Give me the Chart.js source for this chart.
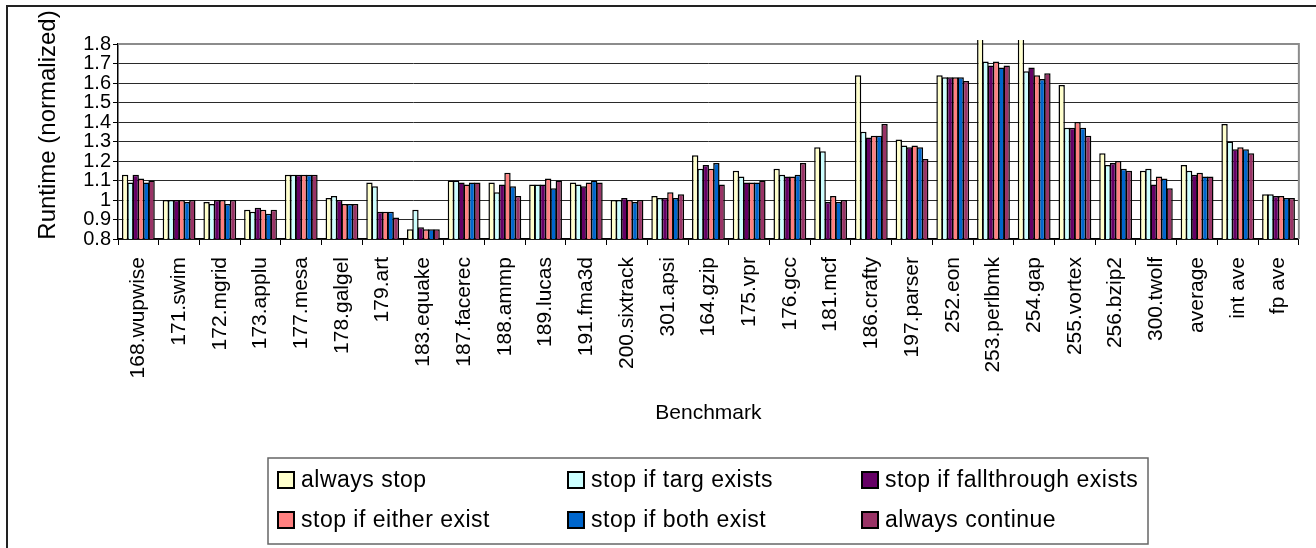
<!DOCTYPE html>
<html>
<head>
<meta charset="utf-8">
<title>Runtime by benchmark</title>
<style>
  html, body { margin: 0; padding: 0; background: #ffffff; }
  #wrap { width: 1316px; height: 548px; position: relative; }
  canvas { display: block; }
</style>
<script src="https://cdn.jsdelivr.net/npm/chart.js@4.4.1/dist/chart.umd.min.js"></script>
</head>
<body>
<div id="wrap"><canvas id="chart" width="1316" height="548"></canvas></div>
<script>
// Benchmarks on the category axis
const categories = [
  '168.wupwise', '171.swim', '172.mgrid', '173.applu', '177.mesa', '178.galgel',
  '179.art', '183.equake', '187.facerec', '188.ammp', '189.lucas', '191.fma3d',
  '200.sixtrack', '301.apsi', '164.gzip', '175.vpr', '176.gcc', '181.mcf',
  '186.crafty', '197.parser', '252.eon', '253.perlbmk', '254.gap', '255.vortex',
  '256.bzip2', '300.twolf', 'average', 'int ave', 'fp ave'
];

// Normalized runtime per policy
const alwaysStop = [1.13, 1.00, 0.99, 0.95, 1.13, 1.01, 1.09, 0.85, 1.10, 1.09, 1.08, 1.09, 1.00, 1.02, 1.23, 1.15, 1.16, 1.27, 1.64, 1.31, 1.64, 1.95, 1.95, 1.59, 1.24, 1.15, 1.18, 1.39, 1.03];
const stopIfTargExists = [1.09, 1.00, 0.98, 0.94, 1.13, 1.02, 1.07, 0.95, 1.10, 1.04, 1.08, 1.08, 1.00, 1.01, 1.16, 1.12, 1.13, 1.25, 1.35, 1.28, 1.63, 1.71, 1.66, 1.37, 1.18, 1.16, 1.15, 1.30, 1.03];
const stopIfFallthroughExists = [1.13, 1.00, 1.00, 0.96, 1.13, 1.00, 0.94, 0.86, 1.09, 1.08, 1.08, 1.07, 1.01, 1.01, 1.18, 1.09, 1.12, 0.99, 1.32, 1.27, 1.63, 1.69, 1.68, 1.37, 1.19, 1.08, 1.13, 1.26, 1.02];
const stopIfEitherExist = [1.11, 1.00, 1.00, 0.95, 1.13, 0.98, 0.94, 0.85, 1.08, 1.14, 1.11, 1.09, 1.00, 1.04, 1.16, 1.09, 1.12, 1.02, 1.33, 1.28, 1.63, 1.71, 1.64, 1.40, 1.20, 1.12, 1.14, 1.27, 1.02];
const stopIfBothExist = [1.09, 0.99, 0.98, 0.93, 1.13, 0.98, 0.94, 0.85, 1.09, 1.07, 1.06, 1.10, 0.99, 1.01, 1.19, 1.09, 1.13, 0.99, 1.33, 1.27, 1.63, 1.68, 1.62, 1.37, 1.16, 1.11, 1.12, 1.26, 1.01];
const alwaysContinue = [1.10, 1.00, 1.00, 0.95, 1.13, 0.98, 0.91, 0.85, 1.09, 1.02, 1.10, 1.09, 1.00, 1.03, 1.08, 1.10, 1.19, 1.00, 1.39, 1.21, 1.61, 1.69, 1.65, 1.33, 1.15, 1.06, 1.12, 1.24, 1.01];

const seriesLabels = [
  'always stop', 'stop if targ exists', 'stop if fallthrough exists',
  'stop if either exist', 'stop if both exist', 'always continue'
];
const seriesValues = [alwaysStop, stopIfTargExists, stopIfFallthroughExists, stopIfEitherExist, stopIfBothExist, alwaysContinue];
const seriesColors = ['#FFFFCC', '#CCFFFF', '#660066', '#FF8080', '#0066CC', '#993366'];

// Value axis range and tick step
const yMin = 0.8;
const yMax = 1.8;
const yStep = 0.1;

const FONT = "'Liberation Sans', Arial, Helvetica, sans-serif";

// Outer frame and grey plot-area edge
const framePlugin = {
  id: 'frame',
  beforeDatasetsDraw(chart) {
    const { ctx, chartArea: a } = chart;
    ctx.save();
    ctx.strokeStyle = '#8c8c8c';
    ctx.lineWidth = 2;
    ctx.beginPath();
    ctx.moveTo(a.left, a.top);
    ctx.lineTo(a.right, a.top);
    ctx.lineTo(a.right, a.bottom);
    ctx.stroke();
    ctx.restore();
  },
  afterDraw(chart) {
    const { ctx, width, height } = chart;
    ctx.save();
    ctx.strokeStyle = '#222';
    ctx.lineWidth = 2;
    ctx.beginPath();
    ctx.moveTo(7, height);
    ctx.lineTo(7, 6);
    ctx.lineTo(width, 6);
    ctx.stroke();
    ctx.restore();
  }
};

// Vertical axis caption
const yCaptionPlugin = {
  id: 'yCaption',
  afterDraw(chart) {
    const { ctx } = chart;
    ctx.save();
    ctx.translate(48, 125);
    ctx.rotate(-Math.PI / 2);
    ctx.fillStyle = '#000';
    ctx.font = '24px ' + FONT;
    ctx.textAlign = 'center';
    ctx.textBaseline = 'middle';
    ctx.fillText('Runtime (normalized)', 0, 0);
    ctx.restore();
  }
};

// Boxed two-row legend
const boxLegendPlugin = {
  id: 'boxLegend',
  afterDraw(chart) {
    const { ctx } = chart;
    const box = { left: 268, top: 458, right: 1148, bottom: 544 };
    const colX = [278, 568, 862];
    const rowY = [472, 512];
    const sw = 16;
    ctx.save();
    ctx.strokeStyle = '#666';
    ctx.lineWidth = 1.5;
    ctx.strokeRect(box.left, box.top, box.right - box.left, box.bottom - box.top);
    ctx.font = '23px ' + FONT;
    ctx.textBaseline = 'middle';
    ctx.textAlign = 'left';
    if ('letterSpacing' in ctx) ctx.letterSpacing = '0.5px';
    chart.data.datasets.forEach((ds, i) => {
      const x = colX[i % 3];
      const y = rowY[Math.floor(i / 3)];
      ctx.fillStyle = ds.backgroundColor;
      ctx.fillRect(x, y, sw, sw);
      ctx.strokeStyle = '#000';
      ctx.lineWidth = 2;
      ctx.strokeRect(x, y, sw, sw);
      ctx.fillStyle = '#000';
      ctx.fillText(ds.label, x + 23, y + sw / 2 + 1);
    });
    ctx.restore();
  }
};

const datasets = seriesLabels.map((label, i) => ({
  label,
  data: seriesValues[i],
  backgroundColor: seriesColors[i],
  borderColor: '#000',
  borderWidth: 1.5,
  borderSkipped: 'start',
  categoryPercentage: 0.78,
  barPercentage: 1.2,
  clip: { left: false, right: false, top: 4, bottom: 0 }
}));

new Chart(document.getElementById('chart'), {
  type: 'bar',
  data: { labels: categories, datasets },
  plugins: [framePlugin, yCaptionPlugin, boxLegendPlugin],
  options: {
    responsive: false,
    animation: false,
    devicePixelRatio: 1,
    layout: { padding: { left: 30, top: 44, right: 17, bottom: 118 } },
    plugins: {
      legend: { display: false },
      tooltip: { enabled: false },
      title: { display: false }
    },
    scales: {
      x: {
        grid: {
          display: true,
          offset: true,
          drawOnChartArea: false,
          drawTicks: true,
          tickLength: 6,
          color: '#000',
          lineWidth: 1
        },
        border: { display: true, color: '#000', width: 1.5 },
        ticks: {
          autoSkip: false,
          minRotation: 90,
          maxRotation: 90,
          padding: 12,
          color: '#000',
          font: { family: FONT, size: 21 }
        },
        title: {
          display: true,
          text: 'Benchmark',
          color: '#000',
          font: { family: FONT, size: 21 },
          padding: { top: 4, bottom: 4 }
        },
        afterFit(scale) { scale.height = 191; }
      },
      y: {
        min: yMin,
        max: yMax,
        grid: {
          color: '#2a2a2a',
          lineWidth: 1,
          drawTicks: true,
          tickLength: 5,
          tickColor: '#000'
        },
        border: { display: true, color: '#000', width: 1.5 },
        ticks: {
          autoSkip: false,
          stepSize: yStep,
          padding: 2,
          color: '#000',
          font: { family: FONT, size: 20 },
          callback: (v) => String(parseFloat(Number(v).toFixed(1)))
        },
        afterFit(scale) { scale.width = 88; }
      }
    }
  }
});
</script>
</body>
</html>
